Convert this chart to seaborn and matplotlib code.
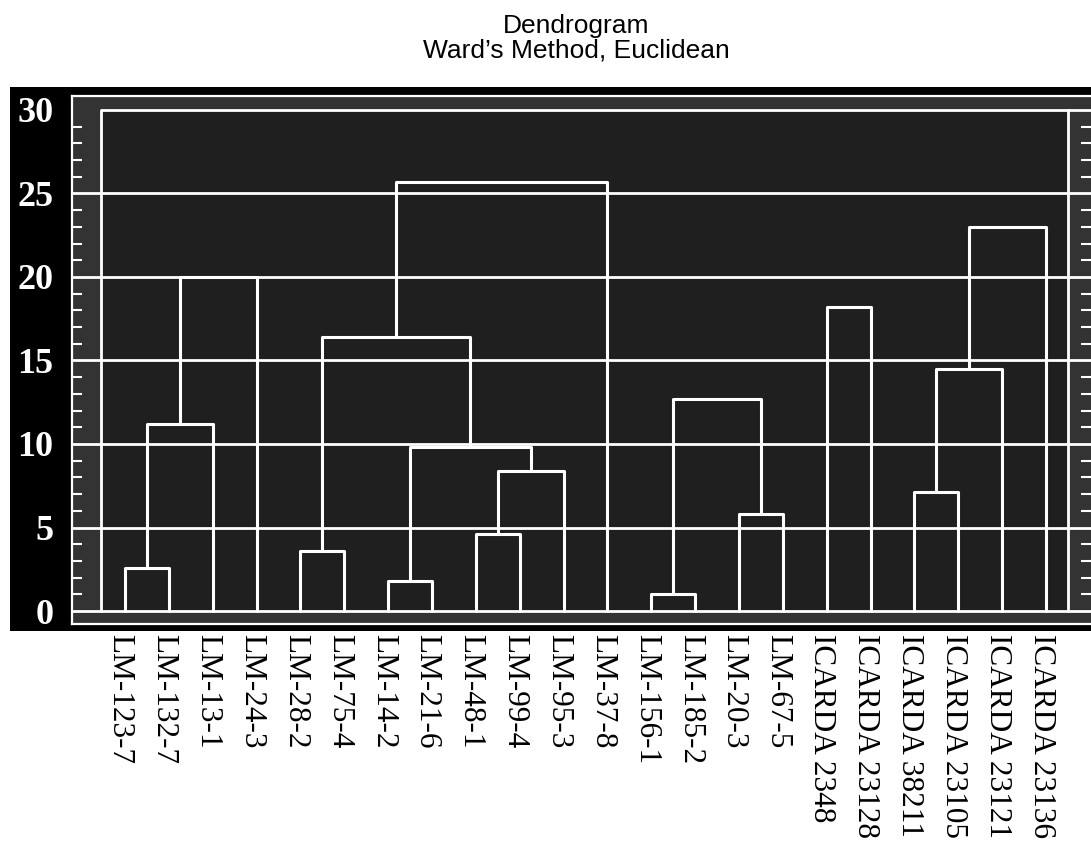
import numpy as np
import pandas as pd
import matplotlib
matplotlib.use("Agg")
import matplotlib.pyplot as plt
import matplotlib.transforms as mtransforms
from matplotlib.patches import Rectangle
import seaborn as sns

# ---------------- data ----------------
leaves = ["LM-123-7", "LM-132-7", "LM-13-1", "LM-24-3", "LM-28-2", "LM-75-4",
          "LM-14-2", "LM-21-6", "LM-48-1", "LM-99-4", "LM-95-3", "LM-37-8",
          "LM-156-1", "LM-185-2", "LM-20-3", "LM-67-5", "ICARDA 2348",
          "ICARDA 23128", "ICARDA 38211", "ICARDA 23105", "ICARDA 23121",
          "ICARDA 23136"]

merge_name = ["A", "B", "C", "D", "E", "F", "G", "H", "I", "J",
              "K", "L", "M", "N", "O", "P", "Q"]
merge_left = ["LM-123-7", "A", "B", "LM-28-2", "LM-14-2", "LM-48-1", "F", "E",
              "D", "I", "LM-156-1", "LM-20-3", "K", "ICARDA 2348",
              "ICARDA 38211", "O", "P"]
merge_right = ["LM-132-7", "LM-13-1", "LM-24-3", "LM-75-4", "LM-21-6",
               "LM-99-4", "LM-95-3", "G", "H", "LM-37-8", "LM-185-2",
               "LM-67-5", "L", "ICARDA 23128", "ICARDA 23105",
               "ICARDA 23121", "ICARDA 23136"]
merge_height = [2.6, 11.2, 20.0, 3.6, 1.8, 4.6, 8.4, 9.8, 16.4, 25.7,
                1.0, 5.8, 12.7, 18.2, 7.1, 14.5, 23.0]

y_major = [0, 5, 10, 15, 20, 25, 30]
y_minor = list(range(0, 31))
title_text = "Dendrogram\nWard\u2019s Method, Euclidean"

# ---------------- build segments ----------------
pos = {name: i for i, name in enumerate(leaves)}
hgt = {name: 0.0 for name in leaves}
rows = []
for k, (nm, l, r, h) in enumerate(zip(merge_name, merge_left, merge_right, merge_height)):
    xl, xr = pos[l], pos[r]
    pts = [(xl, hgt[l]), (xl, h), (xr, h), (xr, hgt[r])]
    for j, (px, py) in enumerate(pts):
        rows.append({"seg": k, "order": j, "x": px, "y": py})
    pos[nm] = (xl + xr) / 2.0
    hgt[nm] = h
seg_df = pd.DataFrame(rows)

# ---------------- style ----------------
sns.set_style("white")
plt.rcParams["font.family"] = ["Liberation Serif", "DejaVu Serif"]

W, H = 1091, 848
fig = plt.figure(figsize=(W / 100, H / 100), dpi=100)
fig.patch.set_facecolor("white")

# black panel behind the plot
bg = Rectangle((10 / W, 1 - 631 / H), (W - 10) / W, (631 - 87) / H,
               transform=fig.transFigure, facecolor="black", edgecolor="none",
               zorder=-5)
fig.add_artist(bg)

ax_l, ax_r, ax_t, ax_b = 72, 1091, 96, 624
ax = fig.add_axes([ax_l / W, 1 - ax_b / H, (ax_r - ax_l) / W, (ax_b - ax_t) / H])
ax.set_facecolor("#1f1f1f")

# data<->pixel mapping
leaf0_px, leaf_step = 125.0, 43.86
xlim = ((ax_l - leaf0_px) / leaf_step, (ax_r - leaf0_px) / leaf_step)
y0_px, y30_px = 611.0, 110.0
ppu = (y0_px - y30_px) / 30.0
ylim = (-(ax_b - y0_px) / ppu, 30 + (y30_px - ax_t) / ppu)
ax.set_xlim(*xlim)
ax.set_ylim(*ylim)

x_axis_left, x_axis_right = -0.55, 21.5
strip = "#333333"
ax.axvspan(xlim[0], x_axis_left, color=strip, lw=0, zorder=0.5)
ax.axvspan(x_axis_right, xlim[1], color=strip, lw=0, zorder=0.5)
ax.axhspan(ylim[0], 0, color=strip, lw=0, zorder=0.5)
ax.axhspan(30, ylim[1], color=strip, lw=0, zorder=0.5)

# grid lines
for v in y_major:
    if v == 30:
        ax.plot([x_axis_left, xlim[1]], [30, 30], color="white", lw=2.0, zorder=2,
                solid_capstyle="butt")
    else:
        ax.axhline(v, color="white", lw=2.0, zorder=2)
# inner axis lines
ax.plot([x_axis_left, x_axis_left], [0, 30], color="white", lw=2.0, zorder=2)
ax.plot([x_axis_right, x_axis_right], [0, 30], color="white", lw=2.0, zorder=2)

# dendrogram
sns.lineplot(data=seg_df, x="x", y="y", units="seg", estimator=None, sort=False,
             color="white", linewidth=2.2, ax=ax, legend=False, zorder=3)
ax.set_xlabel("")
ax.set_ylabel("")

# spines
for s in ["left", "top", "bottom"]:
    ax.spines[s].set_color("white")
    ax.spines[s].set_linewidth(1.6)
    ax.spines[s].set_visible(True)
ax.spines["right"].set_visible(False)

# ticks
ax.set_yticks(y_major)
ax.set_yticklabels([str(v) for v in y_major])
ax.set_yticks(y_minor, minor=True)
ax.tick_params(axis="y", which="major", length=0, pad=13.5, labelsize=26,
               labelcolor="white")
for t in ax.get_yticklabels():
    t.set_fontweight("bold")
ax.tick_params(axis="y", which="minor", left=True, right=True, direction="in",
               length=7, width=1.5, color="white")

ax.set_xticks(range(len(leaves)))
ax.set_xticklabels(leaves, rotation=-90, fontsize=22.5, color="black")
ax.tick_params(axis="x", which="major", length=0, pad=7)
shift = mtransforms.ScaledTranslation(-5 / 100, 0, fig.dpi_scale_trans)
for t in ax.get_xticklabels():
    t.set_transform(t.get_transform() + shift)

fig.text(576 / W, 1 - 14 / H, title_text, ha="center", va="top", fontsize=19,
         family=["Liberation Sans", "DejaVu Sans"], linespacing=1.05, color="black")

fig.savefig("out.png", dpi=100, facecolor="white")
